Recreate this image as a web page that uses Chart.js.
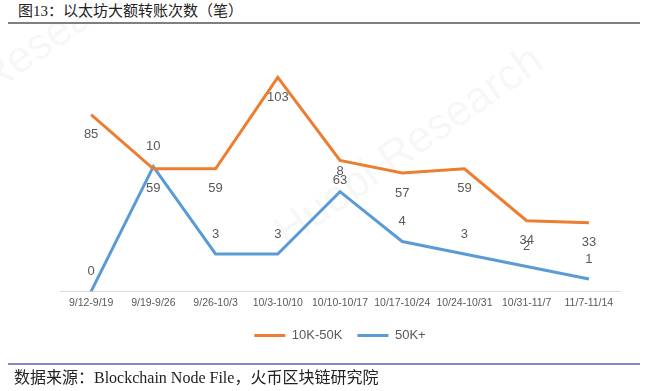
<!DOCTYPE html>
<html>
<head>
<meta charset="utf-8">
<script src="https://cdn.jsdelivr.net/npm/chart.js@4/dist/chart.umd.min.js"></script>
<style>
  html, body { margin: 0; padding: 0; background: #fff; }
  #page { position: relative; width: 650px; height: 391px; overflow: hidden; background: #fff; }
  .wm { position: absolute; font-family: "Liberation Sans", Arial, sans-serif; font-size: 44px; color: rgba(0,0,0,0.05); white-space: nowrap; transform-origin: center center; }
  #title { position: absolute; left: 18px; top: 2px; font-family: "Liberation Serif", "Noto Sans CJK SC", serif; font-size: 15px; color: #222; white-space: nowrap; line-height: 18px; }
  #rule1 { position: absolute; left: 8px; top: 22px; width: 632px; height: 2px; background: #7f7f7f; }
  #rule2 { position: absolute; left: 8px; top: 363px; width: 632px; height: 2px; background: #8585c8; }
  #source { position: absolute; left: 14px; top: 368px; font-family: "Liberation Serif", "Noto Sans CJK SC", serif; font-size: 16px; color: #222; white-space: nowrap; line-height: 20px; }
  #wrap { position: absolute; left: 0; top: 0; width: 650px; height: 391px; }
</style>
</head>
<body>
<div id="page">
  <div class="wm" style="left:250px; top:120px; transform: rotate(-35deg);">Huobi Research</div>
  <div class="wm" style="left:-150px; top:40px; transform: rotate(-35deg);">Huobi Research</div>
  <div id="title">图13：以太坊大额转账次数（笔）</div>
  <div id="rule1"></div>
  <div id="wrap"><canvas id="c"></canvas></div>
  <div id="rule2"></div>
  <div id="source">数据来源：Blockchain Node File，火币区块链研究院</div>
</div>
<script>
const categories = ["9/12-9/19", "9/19-9/26", "9/26-10/3", "10/3-10/10", "10/10-10/17", "10/17-10/24", "10/24-10/31", "10/31-11/7", "11/7-11/14"];
const series10Kto50K = [85, 59, 59, 103, 63, 57, 59, 34, 33];
const series50KPlus = [0, 10, 3, 3, 8, 4, 3, 2, 1];
const seriesNames = ["10K-50K", "50K+"];

const ORANGE = "#ED7D31";
const BLUE = "#5B9BD5";

const valueLabels = {
  id: "valueLabels",
  afterDatasetsDraw(chart) {
    const ctx = chart.ctx;
    ctx.save();
    ctx.font = "13px 'Liberation Sans', Arial, sans-serif";
    ctx.fillStyle = "#595959";
    ctx.textAlign = "center";
    ctx.textBaseline = "middle";
    chart.data.datasets.forEach((ds, di) => {
      const meta = chart.getDatasetMeta(di);
      const off = ds.labelOffset;
      meta.data.forEach((el, i) => {
        ctx.fillText(String(ds.data[i]), el.x, el.y + off);
      });
    });
    ctx.restore();
  }
};

new Chart(document.getElementById("c"), {
  type: "line",
  data: {
    labels: categories,
    datasets: [
      {
        label: seriesNames[0],
        data: series10Kto50K,
        borderColor: ORANGE,
        backgroundColor: ORANGE,
        borderWidth: 3,
        pointRadius: 0,
        tension: 0,
        yAxisID: "y",
        labelOffset: 20
      },
      {
        label: seriesNames[1],
        data: series50KPlus,
        borderColor: BLUE,
        backgroundColor: BLUE,
        borderWidth: 3,
        pointRadius: 0,
        tension: 0,
        yAxisID: "y1",
        labelOffset: -20
      }
    ]
  },
  options: {
    responsive: true,
    maintainAspectRatio: false,
    animation: false,
    devicePixelRatio: 1,
    layout: { padding: { left: 60, right: 30, top: 42, bottom: 39 } },
    scales: {
      x: {
        offset: true,
        grid: { display: false, drawTicks: false },
        border: { display: true, color: "#d9d9d9", width: 1 },
        ticks: {
          color: "#595959",
          font: { family: "'Liberation Sans', Arial, sans-serif", size: 10.5 },
          padding: 5,
          maxRotation: 0,
          autoSkip: false
        }
      },
      y: { display: false, min: 0, max: 120 },
      y1: { display: false, min: 0, max: 20, position: "right" }
    },
    plugins: {
      legend: {
        position: "bottom",
        labels: {
          boxWidth: 31,
          boxHeight: 3,
          padding: 15,
          color: "#595959",
          font: { family: "'Liberation Sans', Arial, sans-serif", size: 13 },
          generateLabels: (chart) =>
            Chart.defaults.plugins.legend.labels.generateLabels(chart).map(l => Object.assign(l, { lineWidth: 0 }))
        }
      },
      tooltip: { enabled: false }
    }
  },
  plugins: [valueLabels]
});
</script>
</body>
</html>
